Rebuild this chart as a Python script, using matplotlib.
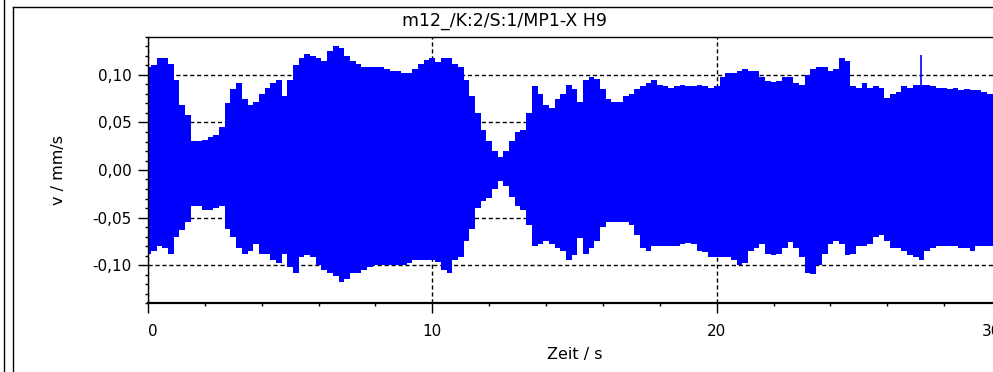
import numpy as np
import matplotlib
matplotlib.use('Agg')
import matplotlib.pyplot as plt
from matplotlib.lines import Line2D
from matplotlib.ticker import MultipleLocator, FuncFormatter

plt.rcParams['font.family'] = ['DejaVu Sans']

zeit = np.round(np.arange(151) * 0.2, 1)

oben = [0.108, 0.110, 0.118, 0.118, 0.112, 0.095, 0.068, 0.058, 0.030, 0.030,
        0.032, 0.035, 0.037, 0.045, 0.070, 0.085, 0.092, 0.075, 0.068, 0.072,
        0.080, 0.086, 0.092, 0.095, 0.078, 0.095, 0.110, 0.118, 0.122, 0.120,
        0.118, 0.115, 0.125, 0.130, 0.128, 0.120, 0.115, 0.112, 0.108, 0.108,
        0.108, 0.108, 0.106, 0.104, 0.104, 0.102, 0.102, 0.106, 0.112, 0.116,
        0.118, 0.114, 0.118, 0.118, 0.112, 0.108, 0.095, 0.078, 0.060, 0.042,
        0.030, 0.020, 0.014, 0.020, 0.030, 0.040, 0.042, 0.060, 0.088, 0.080,
        0.068, 0.065, 0.075, 0.080, 0.090, 0.085, 0.072, 0.095, 0.098, 0.096,
        0.085, 0.075, 0.072, 0.072, 0.078, 0.080, 0.085, 0.088, 0.092, 0.095,
        0.090, 0.088, 0.086, 0.088, 0.090, 0.088, 0.088, 0.090, 0.088, 0.086,
        0.088, 0.098, 0.102, 0.102, 0.104, 0.106, 0.104, 0.104, 0.098, 0.094,
        0.093, 0.094, 0.098, 0.098, 0.092, 0.090, 0.100, 0.106, 0.108, 0.108,
        0.104, 0.106, 0.118, 0.115, 0.088, 0.086, 0.092, 0.086, 0.088, 0.086,
        0.076, 0.080, 0.082, 0.088, 0.086, 0.090, 0.090, 0.090, 0.088, 0.086,
        0.086, 0.085, 0.086, 0.084, 0.085, 0.084, 0.084, 0.082, 0.080, 0.080,
        0.080]

unten = [-0.088, -0.085, -0.080, -0.082, -0.088, -0.070, -0.063, -0.055, -0.038, -0.038,
         -0.042, -0.042, -0.040, -0.038, -0.062, -0.070, -0.082, -0.088, -0.085, -0.078,
         -0.088, -0.088, -0.095, -0.098, -0.088, -0.102, -0.108, -0.092, -0.090, -0.092,
         -0.100, -0.105, -0.108, -0.112, -0.118, -0.115, -0.108, -0.108, -0.105, -0.102,
         -0.100, -0.100, -0.100, -0.100, -0.100, -0.100, -0.098, -0.095, -0.095, -0.095,
         -0.095, -0.097, -0.105, -0.108, -0.095, -0.092, -0.075, -0.062, -0.040, -0.033,
         -0.030, -0.020, -0.012, -0.017, -0.028, -0.038, -0.042, -0.058, -0.080, -0.078,
         -0.075, -0.078, -0.082, -0.085, -0.095, -0.090, -0.072, -0.088, -0.082, -0.075,
         -0.060, -0.055, -0.055, -0.055, -0.055, -0.058, -0.068, -0.082, -0.085, -0.080,
         -0.080, -0.080, -0.080, -0.080, -0.078, -0.077, -0.078, -0.085, -0.086, -0.092,
         -0.092, -0.092, -0.092, -0.095, -0.100, -0.098, -0.085, -0.082, -0.078, -0.088,
         -0.090, -0.088, -0.082, -0.076, -0.082, -0.092, -0.108, -0.110, -0.100, -0.088,
         -0.078, -0.075, -0.078, -0.090, -0.088, -0.080, -0.080, -0.078, -0.070, -0.068,
         -0.075, -0.082, -0.082, -0.085, -0.090, -0.092, -0.095, -0.085, -0.082, -0.080,
         -0.080, -0.080, -0.080, -0.082, -0.082, -0.085, -0.080, -0.080, -0.080, -0.080,
         -0.080]

# einzelne Spitzen
spitze_t = [27.2]
spitze_v = [0.121]

x_ticks = [0, 10, 20, 30]
titel = 'm12_/K:2/S:1/MP1-X H9'

fig = plt.figure(figsize=(9.93, 3.72), dpi=100)
W, H = 993.0, 372.0
ax = fig.add_axes([148 / W, 69 / H, 853 / W, 266 / H])

ax.fill_between(zeit, unten, oben, step='mid', color='#0000ff', lw=0, zorder=2)
ax.vlines(spitze_t, 0, spitze_v, color='#0000ff', lw=1.2, zorder=2)

ax.set_xlim(0, 30)
ax.set_ylim(-0.14, 0.14)
ax.set_xticks(x_ticks, [str(t) for t in x_ticks])
ax.xaxis.set_minor_locator(MultipleLocator(2))
ax.yaxis.set_major_locator(MultipleLocator(0.05))
ax.yaxis.set_minor_locator(MultipleLocator(0.01))
ax.yaxis.set_major_formatter(FuncFormatter(lambda v, p: ('%.2f' % v).replace('.', ',').replace('-0,00', '0,00')))

ax.grid(True, which='major', color='black', ls=(0, (3, 2)), lw=1.0, zorder=1)
ax.set_axisbelow(True)

ax.tick_params(axis='both', which='major', direction='out', length=7, width=1, labelsize=11, colors='black')
ax.tick_params(axis='both', which='minor', direction='out', length=2.5, width=1)
ax.tick_params(axis='x', which='major', pad=8)
ax.tick_params(axis='y', which='major', pad=5)

for s in ['left', 'top', 'bottom']:
    ax.spines[s].set_linewidth(1.0)
ax.spines['bottom'].set_linewidth(1.6)
ax.spines['right'].set_visible(False)

# erste und letzte Beschriftung nach innen ruecken
xl = ax.get_xticklabels()
xl[0].set_horizontalalignment('left')
xl[-1].set_horizontalalignment('right')

ax.set_xlabel('Zeit / s', fontsize=11.5)
ax.set_ylabel('v / mm/s', fontsize=11.5)
ax.yaxis.set_label_coords(-(148 - 66) / 853, 0.5)
ax.xaxis.set_label_coords(0.5, -(347 - 303) / 266)

fig.text(504 / W, 1 - 21 / H, titel, ha='center', va='center', fontsize=12.5)

# Rahmen um das Diagramm
fig.add_artist(Line2D([3.5 / W, 3.5 / W], [0, 1], transform=fig.transFigure, color='black', lw=1))
fig.add_artist(Line2D([12.5 / W, 12.5 / W], [0, 1 - 7 / H], transform=fig.transFigure, color='black', lw=1))
fig.add_artist(Line2D([12.5 / W, 1], [1 - 7 / H, 1 - 7 / H], transform=fig.transFigure, color='black', lw=1))

fig.savefig('out.png', dpi=100)
